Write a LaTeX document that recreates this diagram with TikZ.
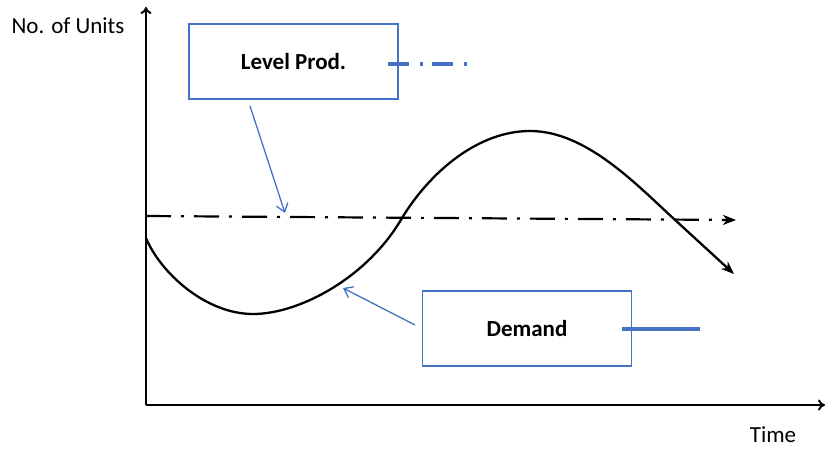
\documentclass[tikz,border=0pt]{standalone}
\usepackage{fontspec}
\setmainfont{Carlito}
\usetikzlibrary{arrows.meta}
\definecolor{lblue}{RGB}{68,114,196}
\begin{document}
\begin{tikzpicture}[x=1pt,y=-1pt,
  axis/.style={line width=2pt,-{To[length=7pt,width=11pt]}},
  box/.style={draw=lblue,line width=1.1pt,minimum width=209pt,minimum height=75pt,font=\bfseries\fontsize{23}{27}\selectfont,inner sep=0pt},
  lbl/.style={font=\fontsize{23}{27}\selectfont,inner sep=0pt},
  pointer/.style={draw=lblue,line width=1.3pt,-{Straight Barb[length=8pt,width=12pt]}},
  curvearr/.style={line width=2.3pt,-{Stealth[length=13pt,width=10pt,inset=4pt]}}]
\useasboundingbox (0,0) rectangle (825,450);
% axes
\coordinate (O) at (146,405);
\coordinate (ytop) at (146,7);
\coordinate (xend) at (825,405);
\draw[axis] (O) -- (ytop);
\draw[axis] (O) -- (xend);
\node[lbl] (ylab) at (68,26) {No. of Units};
\node[lbl] (xlab) at (773,435) {Time};
% level production line
\coordinate (lp0) at (146,216);
\coordinate (lp1) at (736,220);
\draw[line width=2.2pt,dash pattern=on 25pt off 10pt on 3pt off 10pt,-{Stealth[length=13pt,width=10pt,inset=4pt]}] (lp0) -- (lp1);
% demand curve
\coordinate (d0) at (146,238);
\coordinate (d1) at (253,314);
\coordinate (d2) at (402,218);
\coordinate (d3) at (530,131);
\coordinate (d4) at (674,219);
\coordinate (d5) at (734,274);
\draw[curvearr] (d0) .. controls (160,272) and (205,314) .. (d1)
  .. controls (300,314) and (368,277) .. (d2)
  .. controls (430,172) and (478,131) .. (d3)
  .. controls (585,131) and (634,182) .. (d4)
  -- (d5);
% boxes
\node[box] (lev) at (293.5,61.5) {Level Prod.};
\node[box] (dem) at (527,328.5) {Demand};
% legend samples
\coordinate (lg0) at (388,64);
\coordinate (lg1) at (467,64);
\draw[lblue,line width=3.4pt,dash pattern=on 21pt off 11pt on 3pt off 9pt] (lg0) -- (lg1);
\coordinate (dg0) at (622,329);
\coordinate (dg1) at (700,329);
\draw[lblue,line width=3.4pt] (dg0) -- (dg1);
% pointers
\coordinate (p1s) at (250,106);
\coordinate (p1e) at (285,213);
\draw[pointer] (p1s) -- (p1e);
\coordinate (p2s) at (415,325);
\coordinate (p2e) at (343,288);
\draw[pointer] (p2s) -- (p2e);
\end{tikzpicture}
\end{document}
